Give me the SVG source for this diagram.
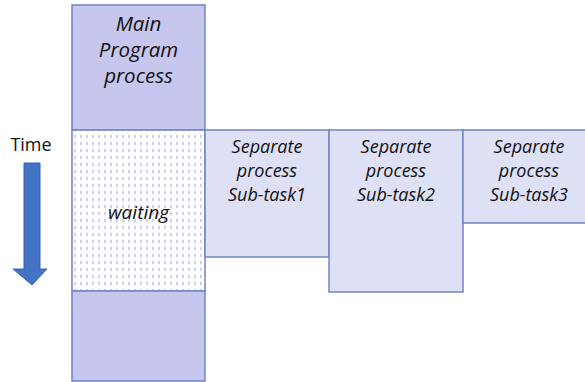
<svg xmlns="http://www.w3.org/2000/svg" width="585" height="382" viewBox="0 0 585 382">
<style>
.box{stroke:#7184C4;stroke-width:1.5}
.main{fill:#C6C6EE}
.sub{fill:#DEE1F6}
.lbl{font-family:"Open Sans","Liberation Sans",sans-serif;font-style:italic;fill:#111111;text-anchor:middle}
</style>
<defs>
<pattern id="dots" width="6" height="7" patternUnits="userSpaceOnUse">
<rect width="6" height="7" fill="#ffffff"/>
<ellipse cx="3" cy="3.5" rx="0.8" ry="2" fill="#C0C0EA"/>
</pattern>
</defs>
<g id="main-top"><rect class="box main" x="72" y="5" width="133" height="125"/>
<text class="lbl" x="138.5" y="31" font-size="20.5">Main</text>
<text class="lbl" x="138.5" y="57" font-size="20.5">Program</text>
<text class="lbl" x="138.5" y="83" font-size="20.5">process</text></g>
<g id="waiting"><rect class="box" fill="url(#dots)" x="72" y="130" width="133" height="161"/>
<text class="lbl" x="138.5" y="219" font-size="19">waiting</text></g>
<g id="main-bottom"><rect class="box main" x="72" y="291" width="133" height="90"/></g>
<g id="sub1"><rect class="box sub" x="205" y="130" width="124" height="127"/>
<text class="lbl" x="267" y="153" font-size="18">Separate</text>
<text class="lbl" x="267" y="177" font-size="18">process</text>
<text class="lbl" x="267" y="201" font-size="18">Sub-task1</text></g>
<g id="sub2"><rect class="box sub" x="329" y="130" width="134" height="162"/>
<text class="lbl" x="396" y="153" font-size="18">Separate</text>
<text class="lbl" x="396" y="177" font-size="18">process</text>
<text class="lbl" x="396" y="201" font-size="18">Sub-task2</text></g>
<g id="sub3"><rect class="box sub" x="463" y="130" width="124" height="93"/>
<text class="lbl" x="529" y="153" font-size="18">Separate</text>
<text class="lbl" x="529" y="177" font-size="18">process</text>
<text class="lbl" x="529" y="201" font-size="18">Sub-task3</text></g>
<g id="time"><text x="31" y="151" font-family="'Open Sans','Liberation Sans',sans-serif" font-size="18" fill="#111111" text-anchor="middle">Time</text>
<polygon points="24,163 40,163 40,269 47,269 32,285 13,269 24,269" fill="#4472C4" stroke="#3A64B0" stroke-width="1"/></g>
<g id="connectors"></g>
</svg>
